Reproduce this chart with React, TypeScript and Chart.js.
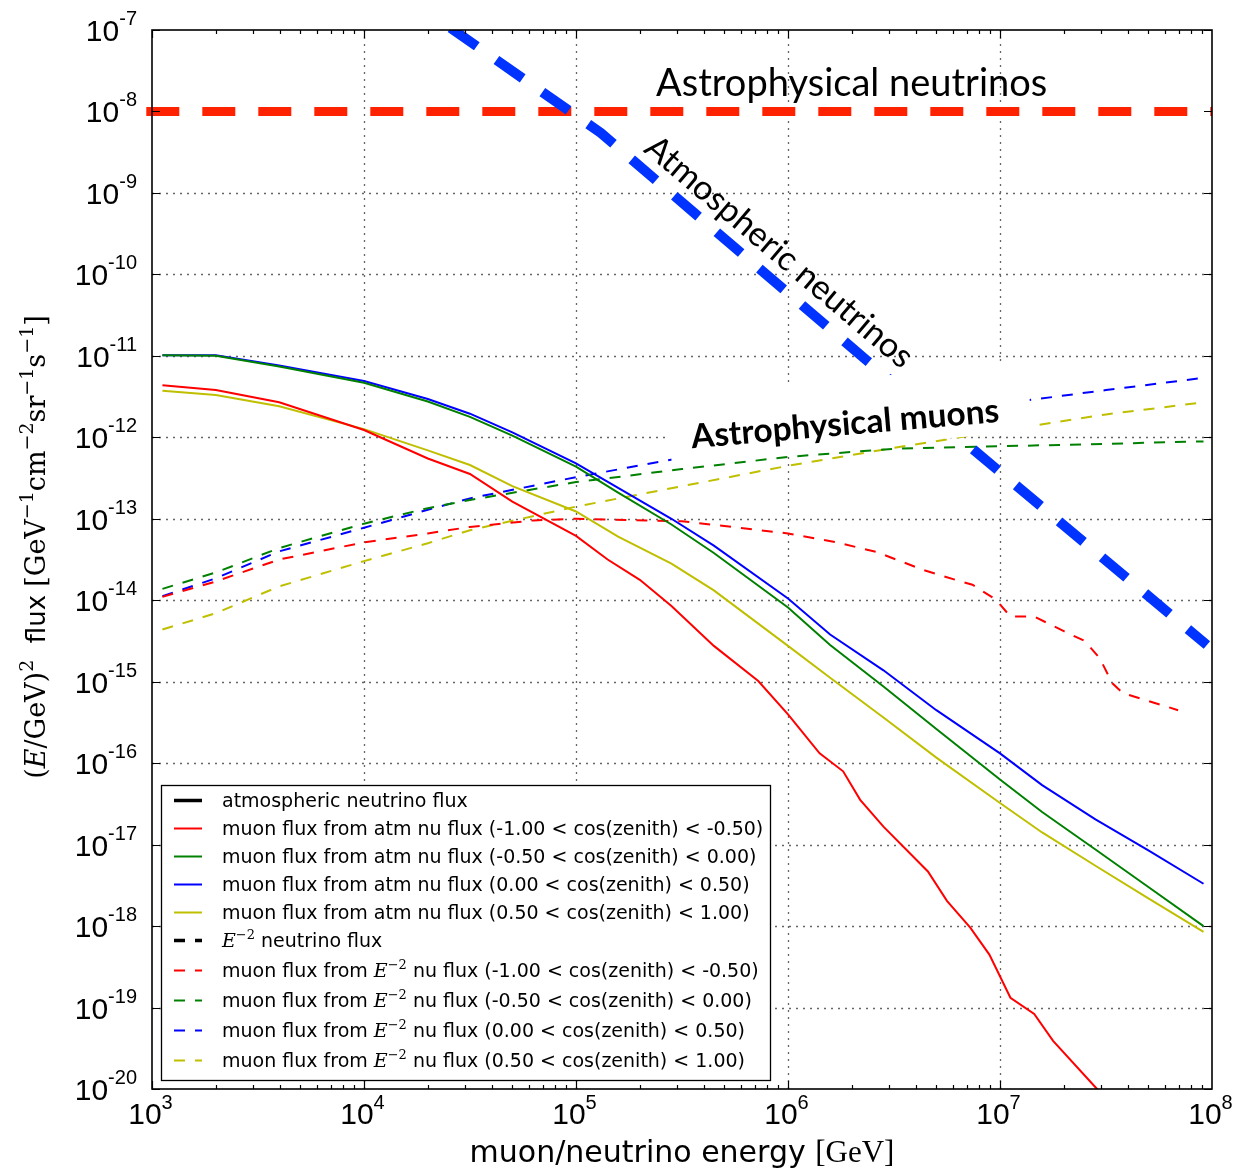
import React, { useEffect, useRef } from 'react';
import { Chart, registerables } from 'chart.js';

Chart.register(...registerables);

// ---------------- data ----------------
// muon flux from atmospheric neutrino flux, solid curves
const atmMuonEnergy = [1.12e3, 2.0e3, 3.98e3, 1.0e4, 2.0e4, 3.16e4, 5.01e4, 1.0e5, 1.58e5, 2.82e5, 4.47e5, 1.0e6, 1.58e6, 2.82e6, 5.01e6, 1.0e7, 1.58e7, 2.82e7, 5.01e7, 9.12e7];
const atmMuonBin2 = [1.02e-11, 1.0e-11, 7.41e-12, 4.68e-12, 2.75e-12, 1.78e-12, 1.05e-12, 4.37e-13, 2.09e-13, 8.51e-14, 3.8e-14, 8.13e-15, 2.82e-15, 8.71e-16, 2.63e-16, 6.31e-17, 2.51e-17, 8.71e-18, 3.02e-18, 1.0e-18];
const atmMuonBin3 = [1.02e-11, 1.02e-11, 7.59e-12, 4.9e-12, 2.95e-12, 1.95e-12, 1.15e-12, 4.79e-13, 2.4e-13, 1.0e-13, 4.68e-14, 1.05e-14, 3.8e-15, 1.38e-15, 4.47e-16, 1.32e-16, 5.37e-17, 2.04e-17, 8.51e-18, 3.31e-18];
const atmMuonBin4 = [3.72e-12, 3.31e-12, 2.4e-12, 1.26e-12, 6.92e-13, 4.57e-13, 2.51e-13, 1.23e-13, 6.03e-14, 2.82e-14, 1.32e-14, 2.75e-15, 1.12e-15, 3.63e-16, 1.17e-16, 3.24e-17, 1.41e-17, 5.5e-18, 2.19e-18, 8.51e-19];
// the up-going bin has more structure, so it has its own energy list
const atmMuonBin1Energy = [1.12e3, 2.0e3, 3.98e3, 1.0e4, 2.0e4, 3.16e4, 5.01e4, 1.0e5, 1.41e5, 2.0e5, 2.82e5, 4.47e5, 7.24e5, 1.0e6, 1.41e6, 1.82e6, 2.19e6, 2.82e6, 4.57e6, 5.62e6, 7.24e6, 8.91e6, 1.12e7, 1.45e7, 1.78e7, 2.82e7, 3.98e7];
const atmMuonBin1 = [4.37e-12, 3.8e-12, 2.69e-12, 1.23e-12, 5.5e-13, 3.55e-13, 1.62e-13, 6.17e-14, 3.16e-14, 1.78e-14, 8.51e-15, 2.75e-15, 1.02e-15, 3.98e-16, 1.32e-16, 7.94e-17, 3.55e-17, 1.66e-17, 4.68e-18, 2.04e-18, 9.55e-19, 4.47e-19, 1.32e-19, 8.32e-20, 3.89e-20, 1.05e-20, 3.98e-21];

// muon flux from E^-2 neutrino flux, dashed curves
const e2MuonEnergy = [1.12e3, 2.0e3, 3.98e3, 1.0e4, 2.0e4, 3.16e4, 1.0e5, 3.16e5, 1.0e6, 3.16e6, 1.0e7, 3.16e7, 9.12e7];
const e2MuonBin2 = [1.38e-14, 2.19e-14, 4.37e-14, 8.71e-14, 1.35e-13, 1.7e-13, 2.82e-13, 4.07e-13, 5.75e-13, 7.24e-13, 7.76e-13, 8.32e-13, 8.91e-13];
const e2MuonBin3 = [1.12e-14, 1.86e-14, 3.98e-14, 7.76e-14, 1.29e-13, 1.78e-13, 3.24e-13, 5.62e-13, 9.33e-13, 1.51e-12, 2.57e-12, 3.8e-12, 5.37e-12];
const e2MuonBin4 = [4.37e-15, 6.92e-15, 1.48e-14, 3.02e-14, 5.01e-14, 7.24e-14, 1.41e-13, 2.51e-13, 4.47e-13, 7.41e-13, 1.2e-12, 1.91e-12, 2.69e-12];
const e2MuonBin1Energy = [1.12e3, 2.0e3, 3.98e3, 1.0e4, 2.0e4, 3.16e4, 6.31e4, 1.0e5, 3.16e5, 1.0e6, 1.7e6, 2.63e6, 4.37e6, 6.17e6, 7.41e6, 9.55e6, 1.12e7, 1.45e7, 2.0e7, 2.51e7, 2.95e7, 3.39e7, 3.8e7, 6.92e7];
const e2MuonBin1 = [1.1e-14, 1.7e-14, 3.16e-14, 5.13e-14, 6.61e-14, 7.94e-14, 9.55e-14, 1.0e-13, 9.33e-14, 6.61e-14, 5.13e-14, 3.89e-14, 2.34e-14, 1.78e-14, 1.55e-14, 1.02e-14, 6.31e-15, 6.31e-15, 4.17e-15, 3.16e-15, 1.95e-15, 9.55e-16, 7.24e-16, 4.47e-16];

// hand-drawn overlay lines
const atmNuEnergy = [2.56e4, 1.31e5, 2.34e6, 9.46e7];
const atmNuFlux = [1.06e-7, 5.44e-9, 8.89e-12, 2.82e-15];
const astroNuEnergy = [9.4e2, 1.0e8];
const astroNuFlux = [1.0e-8, 1.0e-8];

// axes
const xTickExponents = [3, 4, 5, 6, 7, 8];
const yTickExponents = [-7, -8, -9, -10, -11, -12, -13, -14, -15, -16, -17, -18, -19, -20];
const zenithBins = ['(-1.00 < cos(zenith) < -0.50)', '(-0.50 < cos(zenith) < 0.00)', '(0.00 < cos(zenith) < 0.50)', '(0.50 < cos(zenith) < 1.00)'];

const RED = '#ff0000';
const GREEN = '#008000';
const BLUE = '#0000ff';
const YELLOW = '#bfbf00';
const binColors = [RED, GREEN, BLUE, YELLOW];

const pts = (xs: number[], ys: number[]) => ys.map((y, i) => ({ x: xs[i], y }));

type Seg = { t: string; f: string; dy?: number };

function richWidth(ctx: CanvasRenderingContext2D, segs: Seg[]) {
  let w = 0;
  for (const s of segs) {
    ctx.font = s.f;
    w += ctx.measureText(s.t).width;
  }
  return w;
}

function drawRich(ctx: CanvasRenderingContext2D, segs: Seg[], x: number, y: number, align: 'left' | 'center' | 'right') {
  const w = richWidth(ctx, segs);
  let cx = align === 'left' ? x : align === 'center' ? x - w / 2 : x - w;
  ctx.textAlign = 'left';
  ctx.textBaseline = 'alphabetic';
  for (const s of segs) {
    ctx.font = s.f;
    ctx.fillText(s.t, cx, y + (s.dy || 0));
    cx += ctx.measureText(s.t).width;
  }
}

const SANS = '"DejaVu Sans"';
const TICKF = '"Liberation Sans"';
const SERIF = '"DejaVu Serif"';
const PPT = 'Lato';

const overlayPlugin = {
  id: 'overlay',
  beforeDatasetsDraw(chart: any) {
    const { ctx, chartArea: a, scales } = chart;
    const xs = scales.x, ys = scales.y;
    ctx.save();
    ctx.strokeStyle = '#666666';
    ctx.lineWidth = 1.3;
    ctx.setLineDash([2, 5]);
    for (const e of xTickExponents) {
      const px = Math.round(xs.getPixelForValue(Math.pow(10, e))) + 0.5;
      if (px <= a.left + 1 || px >= a.right - 1) continue;
      ctx.beginPath();
      ctx.moveTo(px, a.top);
      ctx.lineTo(px, a.bottom);
      ctx.stroke();
    }
    for (const e of yTickExponents) {
      // the 1e-8 grid line lies under the hand-drawn astrophysical band
      if (e === -8) continue;
      const py = Math.round(ys.getPixelForValue(Math.pow(10, e))) + 0.5;
      if (py <= a.top + 1 || py >= a.bottom - 1) continue;
      ctx.beginPath();
      ctx.moveTo(a.left, py);
      ctx.lineTo(a.right, py);
      ctx.stroke();
    }
    ctx.restore();
  },
  afterDatasetsDraw(chart: any) {
    const { ctx } = chart;
    ctx.save();
    ctx.fillStyle = '#000';

    // Astrophysical neutrinos
    ctx.font = `38px ${PPT}`;
    ctx.textAlign = 'left';
    ctx.textBaseline = 'alphabetic';
    ctx.fillText('Astrophysical neutrinos', 656, 96);

    // Atmospheric neutrinos (rotated along the blue line)
    ctx.save();
    ctx.translate(779, 252);
    ctx.rotate((40.2 * Math.PI) / 180);
    ctx.font = `34px ${PPT}`;
    ctx.textAlign = 'center';
    ctx.textBaseline = 'middle';
    ctx.fillText('Atmospheric neutrinos', 0, 0);
    ctx.restore();

    // Astrophysical muons (white box)
    ctx.save();
    ctx.translate(846, 435);
    ctx.rotate((-4.9 * Math.PI) / 180);
    ctx.fillStyle = '#ffffff';
    ctx.fillRect(-176, -56, 362, 68);
    ctx.fillStyle = '#000';
    ctx.font = `bold 33.5px ${PPT}`;
    ctx.textAlign = 'center';
    ctx.textBaseline = 'alphabetic';
    ctx.fillText('Astrophysical muons', 0, 0);
    ctx.restore();

    // legend
    const lx = 161, ly = 785, lw = 609, lh = 295;
    ctx.fillStyle = '#fff';
    ctx.fillRect(lx, ly, lw, lh);
    ctx.strokeStyle = '#000';
    ctx.lineWidth = 1.3;
    ctx.setLineDash([]);
    ctx.strokeRect(lx + 0.5, ly + 0.5, lw, lh);

    const lf = `19px ${SANS}`;
    const eItal = `italic 19px ${SERIF}`;
    const eSup = `13px ${SERIF}`;
    const rows: { segs: Seg[]; color: string; w: number; dashed: boolean }[] = [];
    rows.push({ segs: [{ t: 'atmospheric neutrino flux', f: lf }], color: '#000', w: 3.5, dashed: false });
    zenithBins.forEach((b, i) => rows.push({ segs: [{ t: 'muon flux from atm nu flux ' + b, f: lf }], color: binColors[i], w: 2, dashed: false }));
    rows.push({ segs: [{ t: 'E', f: eItal }, { t: '\u22122', f: eSup, dy: -8 }, { t: ' neutrino flux', f: lf }], color: '#000', w: 3.5, dashed: true });
    zenithBins.forEach((b, i) =>
      rows.push({
        segs: [{ t: 'muon flux from ', f: lf }, { t: 'E', f: eItal }, { t: '\u22122', f: eSup, dy: -8 }, { t: ' nu flux ' + b, f: lf }],
        color: binColors[i],
        w: 2,
        dashed: true,
      })
    );
    rows.forEach((r, i) => {
      const y = i <= 5 ? 800.5 + i * 28 : 940.5 + (i - 5) * 30;
      ctx.beginPath();
      ctx.setLineDash(r.dashed ? [11, 10] : []);
      ctx.strokeStyle = r.color;
      ctx.lineWidth = r.w;
      ctx.moveTo(174, y);
      ctx.lineTo(202, y);
      ctx.stroke();
      ctx.setLineDash([]);
      ctx.fillStyle = '#000';
      drawRich(ctx, r.segs, 222, y + 6, 'left');
    });
    ctx.restore();
  },
  afterDraw(chart: any) {
    const { ctx, chartArea: a, scales } = chart;
    const xs = scales.x, ys = scales.y;
    ctx.save();
    ctx.setLineDash([]);
    ctx.strokeStyle = '#000';

    // ticks (inward)
    ctx.lineWidth = 1.2;
    for (let e = 3; e < 8; e++) {
      for (let m = 1; m < 10; m++) {
        const v = m * Math.pow(10, e);
        const px = Math.round(xs.getPixelForValue(v)) + 0.5;
        const len = m === 1 ? 8 : 4;
        ctx.beginPath();
        ctx.moveTo(px, a.bottom);
        ctx.lineTo(px, a.bottom - len);
        ctx.moveTo(px, a.top);
        ctx.lineTo(px, a.top + len);
        ctx.stroke();
      }
    }
    for (const e of yTickExponents) {
      const py = Math.round(ys.getPixelForValue(Math.pow(10, e))) + 0.5;
      ctx.beginPath();
      ctx.moveTo(a.left, py);
      ctx.lineTo(a.left + 8, py);
      ctx.moveTo(a.right, py);
      ctx.lineTo(a.right - 8, py);
      ctx.stroke();
    }

    // frame
    ctx.lineWidth = 1.6;
    ctx.strokeRect(a.left, a.top, a.right - a.left, a.bottom - a.top);

    // tick labels
    ctx.fillStyle = '#000';
    for (const e of xTickExponents) {
      const px = xs.getPixelForValue(Math.pow(10, e));
      drawRich(ctx, [{ t: '10', f: `30px ${TICKF}` }, { t: String(e), f: `20px ${TICKF}`, dy: -15 }], px - 1.5, 1124, 'center');
    }
    for (const e of yTickExponents) {
      const py = ys.getPixelForValue(Math.pow(10, e));
      drawRich(ctx, [{ t: '10', f: `30px ${TICKF}` }, { t: String(e), f: `20px ${TICKF}`, dy: -16 }], 137, py + 11, 'right');
    }

    // x axis title
    drawRich(ctx, [{ t: 'muon/neutrino energy ', f: `30px ${SANS}` }, { t: '[GeV]', f: `31px "Liberation Serif"` }], 682, 1162, 'center');

    // y axis title
    ctx.save();
    ctx.translate(45, 547);
    ctx.rotate(-Math.PI / 2);
    const s = `27px ${SERIF}`;
    const si = `italic 27px ${SERIF}`;
    const sup = `19px ${SERIF}`;
    const dy = -12;
    drawRich(
      ctx,
      [
        { t: '(', f: s },
        { t: 'E', f: si },
        { t: '/GeV)', f: s },
        { t: '2', f: sup, dy },
        { t: '  flux ', f: `26px ${SANS}` },
        { t: '[GeV', f: s },
        { t: '\u22121', f: sup, dy },
        { t: 'cm', f: s },
        { t: '\u22122', f: sup, dy },
        { t: 'sr', f: s },
        { t: '\u22121', f: sup, dy },
        { t: 's', f: s },
        { t: '\u22121', f: sup, dy },
        { t: ']', f: s },
      ],
      0,
      0,
      'center'
    );
    ctx.restore();
    ctx.restore();
  },
};

export default function App() {
  const ref = useRef<HTMLCanvasElement | null>(null);
  useEffect(() => {
    if (!ref.current) return;
    const thin = (label: string, xs: number[], ys: number[], color: string, dashed: boolean) => ({
      label,
      data: pts(xs, ys),
      borderColor: color,
      borderWidth: 2,
      borderDash: dashed ? [11, 10] : [],
      pointRadius: 0,
      fill: false,
      tension: 0,
    });
    const chart = new Chart(ref.current, {
      type: 'line',
      data: {
        datasets: [
          {
            label: 'Atmospheric neutrinos',
            data: pts(atmNuEnergy, atmNuFlux),
            borderColor: '#0033ff',
            borderWidth: 10,
            borderDash: [32, 24],
            pointRadius: 0,
            fill: false,
            tension: 0,
          },
          {
            label: 'Astrophysical neutrinos',
            data: pts(astroNuEnergy, astroNuFlux),
            borderColor: '#ff2200',
            borderWidth: 9,
            borderDash: [33, 23],
            pointRadius: 0,
            fill: false,
            tension: 0,
            clip: false,
          },
          thin('muon flux from atm nu flux ' + zenithBins[0], atmMuonBin1Energy, atmMuonBin1, RED, false),
          thin('muon flux from atm nu flux ' + zenithBins[1], atmMuonEnergy, atmMuonBin2, GREEN, false),
          thin('muon flux from atm nu flux ' + zenithBins[2], atmMuonEnergy, atmMuonBin3, BLUE, false),
          thin('muon flux from atm nu flux ' + zenithBins[3], atmMuonEnergy, atmMuonBin4, YELLOW, false),
          thin('muon flux from E^-2 nu flux ' + zenithBins[0], e2MuonBin1Energy, e2MuonBin1, RED, true),
          thin('muon flux from E^-2 nu flux ' + zenithBins[1], e2MuonEnergy, e2MuonBin2, GREEN, true),
          thin('muon flux from E^-2 nu flux ' + zenithBins[2], e2MuonEnergy, e2MuonBin3, BLUE, true),
          thin('muon flux from E^-2 nu flux ' + zenithBins[3], e2MuonEnergy, e2MuonBin4, YELLOW, true),
        ] as any,
      },
      options: {
        responsive: false,
        animation: false,
        devicePixelRatio: 1,
        layout: { padding: { left: 152, right: 26, top: 30, bottom: 84 } },
        plugins: { legend: { display: false }, tooltip: { enabled: false } },
        scales: {
          x: {
            type: 'logarithmic',
            min: 1e3,
            max: 1e8,
            ticks: { display: false },
            grid: { display: false, drawTicks: false, tickLength: 0 },
            border: { display: false },
          },
          y: {
            type: 'logarithmic',
            min: 1e-20,
            max: 1e-7,
            ticks: { display: false },
            grid: { display: false, drawTicks: false, tickLength: 0 },
            border: { display: false },
          },
        },
      } as any,
      plugins: [overlayPlugin as any],
    });
    return () => chart.destroy();
  }, []);
  return (
    <div style={{ position: 'absolute', left: 0, top: 0, width: 1238, height: 1173, background: '#fff' }}>
      <canvas ref={ref} width={1238} height={1173} style={{ display: 'block' }} />
    </div>
  );
}
